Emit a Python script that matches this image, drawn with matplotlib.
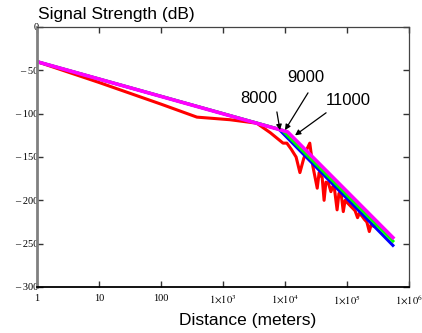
import numpy as np
import matplotlib
matplotlib.use("Agg")
import matplotlib.pyplot as plt

plt.rcParams["mathtext.fontset"] = "stix"

# ---------------------------------------------------------------- data
# smooth two-slope curves (break points 8000 / 9000 / 11000 m)
blue_d = [1, 8000, 550000]
blue_db = [-40, -118, -252]
green_d = [1, 9000, 550000]
green_db = [-40, -119, -247]
magenta_d = [1, 11000, 550000]
magenta_db = [-40, -121, -243]

# measured (noisy) red curve
red_d = [1, 10, 100, 380, 1300, 3500, 5800, 9300,
         10700, 12600, 15100, 17400, 20000, 22900, 25100, 28200, 33100,
         35500, 39800, 42700, 45700, 50100, 55000, 58900, 63100, 69200,
         74100, 81300, 87100, 93300, 102000, 112000, 123000, 135000,
         148000, 158000, 174000, 191000, 209000, 229000, 245000, 269000,
         302000]
red_db = [-40, -64, -89, -104, -107, -111, -122, -134,
          -134, -141, -150, -168, -152, -140, -134, -161, -186,
          -168, -174, -200, -179, -180, -190, -184, -188, -211,
          -192, -195, -213, -200, -203, -206, -209, -212,
          -220, -215, -218, -222, -225, -236, -228, -230,
          -228]

x_ticks = [1, 10, 100, 1e3, 1e4, 1e5, 1e6]
x_labels = ["1", "10", "100", r"$1{\times}10^{3}$", r"$1{\times}10^{4}$",
            r"$1{\times}10^{5}$", r"$1{\times}10^{6}$"]
y_ticks = [0, -50, -100, -150, -200, -250, -300]
y_labels = ["0", "\u2013 50", "\u2013 100", "\u2013 150", "\u2013 200",
            "\u2013 250", "\u2013 300"]

# label text, text position, arrow tail, arrow tip
notes = [("8000", (3800, -83), (7400, -98), (8300, -119)),
         ("9000", (21800, -58), (23500, -76), (10000, -119)),
         ("11000", (104000, -85), (46000, -99), (14500, -125))]

# ---------------------------------------------------------------- plot
fig = plt.figure(figsize=(4.22, 3.33), dpi=100)
ax = fig.add_axes([37 / 422, 1 - 287 / 333, 372 / 422, 260 / 333])

ax.plot(red_d, red_db, color="#ff0000", lw=2.2)
ax.plot(blue_d, blue_db, color="#0000ff", lw=2.2)
ax.plot(green_d, green_db, color="#00ff00", lw=2.2)
ax.plot(magenta_d, magenta_db, color="#ff00ff", lw=2.6)

ax.set_xscale("log")
ax.set_xlim(1, 1e6)
ax.set_ylim(-300, 0)
ax.minorticks_off()

serif = "Liberation Serif"
ax.set_xticks(x_ticks)
ax.set_xticklabels(x_labels, fontsize=7.5, family=serif)
ax.set_yticks(y_ticks)
ax.set_yticklabels(y_labels, fontsize=7.5, family=serif)
ax.tick_params(axis="both", direction="in", length=4, width=1,
               top=True, right=True, color="#333333")
ax.tick_params(axis="y", pad=-1)
ax.tick_params(axis="x", pad=5)

ax.spines["left"].set_color("#808080")
ax.spines["left"].set_linewidth(2)
ax.spines["bottom"].set_color("black")
ax.spines["bottom"].set_linewidth(1.3)
for s in ("top", "right"):
    ax.spines[s].set_color("#444444")
    ax.spines[s].set_linewidth(0.9)

for txt, tpos, tail, tip in notes:
    ax.text(*tpos, txt, fontsize=12, family="Liberation Sans",
            ha="center", va="center")
    ax.annotate("", xy=tip, xytext=tail,
                arrowprops=dict(arrowstyle="-|>", color="black", lw=0.9,
                                mutation_scale=8, shrinkA=0, shrinkB=0))

fig.text(38 / 422, 1 - 15 / 333, "Signal Strength (dB)", fontsize=12.5,
         family="Liberation Sans", ha="left", va="center")
fig.text(248 / 422, 1 - 320 / 333, "Distance (meters)", fontsize=12.5,
         family="Liberation Sans", ha="center", va="center")

fig.savefig("out.png", dpi=100)
